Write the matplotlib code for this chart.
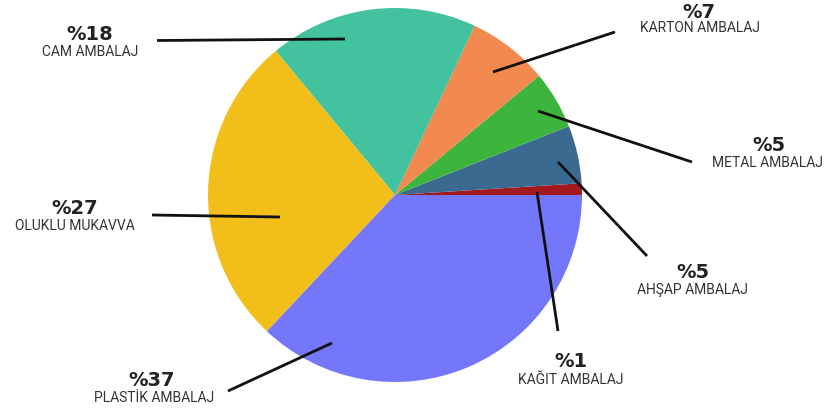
import matplotlib
matplotlib.use("Agg")
import matplotlib.pyplot as plt

# ---- data ----
categories = ["KAĞIT AMBALAJ", "AHŞAP AMBALAJ", "METAL AMBALAJ", "KARTON AMBALAJ",
              "CAM AMBALAJ", "OLUKLU MUKAVVA", "PLASTİK AMBALAJ"]
values = [1, 5, 5, 7, 18, 27, 37]
pct_labels = ["%1", "%5", "%5", "%7", "%18", "%27", "%37"]

# ---- style ----
colors = ["#a3191d", "#3b6a90", "#3db53d", "#f28a50", "#42c29f", "#f2bf1a", "#7577fa"]

W, H = 828, 410
fig = plt.figure(figsize=(W / 100, H / 100), dpi=100)
ax = fig.add_axes([0, 0, 1, 1])

cx, cy, r = 395, 196, 187
ax.pie(values, colors=colors, startangle=0, counterclock=False,
       center=(cx, cy), radius=r, frame=True,
       wedgeprops=dict(linewidth=0))
ax.set_xlim(0, W)
ax.set_ylim(H, 0)
ax.set_aspect("equal")
ax.axis("off")

# layout: (pct text centre, name text centre, line start, line end) in pixels
layout = [
    ((571, 362), (571, 380), (537, 193), (558, 332)),  # kagit
    ((693, 273), (693, 290), (558, 163), (647, 257)),  # ahsap
    ((769, 146), (768, 163), (538, 112), (692, 163)),  # metal
    ((699, 12), (700, 28), (493, 73), (615, 33)),      # karton
    ((90, 35), (90, 52), (345, 40), (157, 41.5)),      # cam
    ((75, 209), (75, 226), (280, 218), (152, 216)),    # oluklu
    ((152, 381), (154, 398), (332, 344), (228, 392)),  # plastik
]

fam = ["Roboto", "DejaVu Sans"]
for name, pct, (pp, npos, l0, l1) in zip(categories, pct_labels, layout):
    ax.plot([l0[0], l1[0]], [l0[1], l1[1]], color="#111111", lw=2.0,
            solid_capstyle="butt", zorder=5)
    ax.text(pp[0], pp[1], pct, ha="center", va="center", fontsize=14,
            fontweight="bold", color="#222222", family=["DejaVu Sans"])
    ax.text(npos[0], npos[1], name, ha="center", va="center", fontsize=10,
            color="#333333", family=fam)

fig.savefig("out.png", dpi=100, facecolor="white")
